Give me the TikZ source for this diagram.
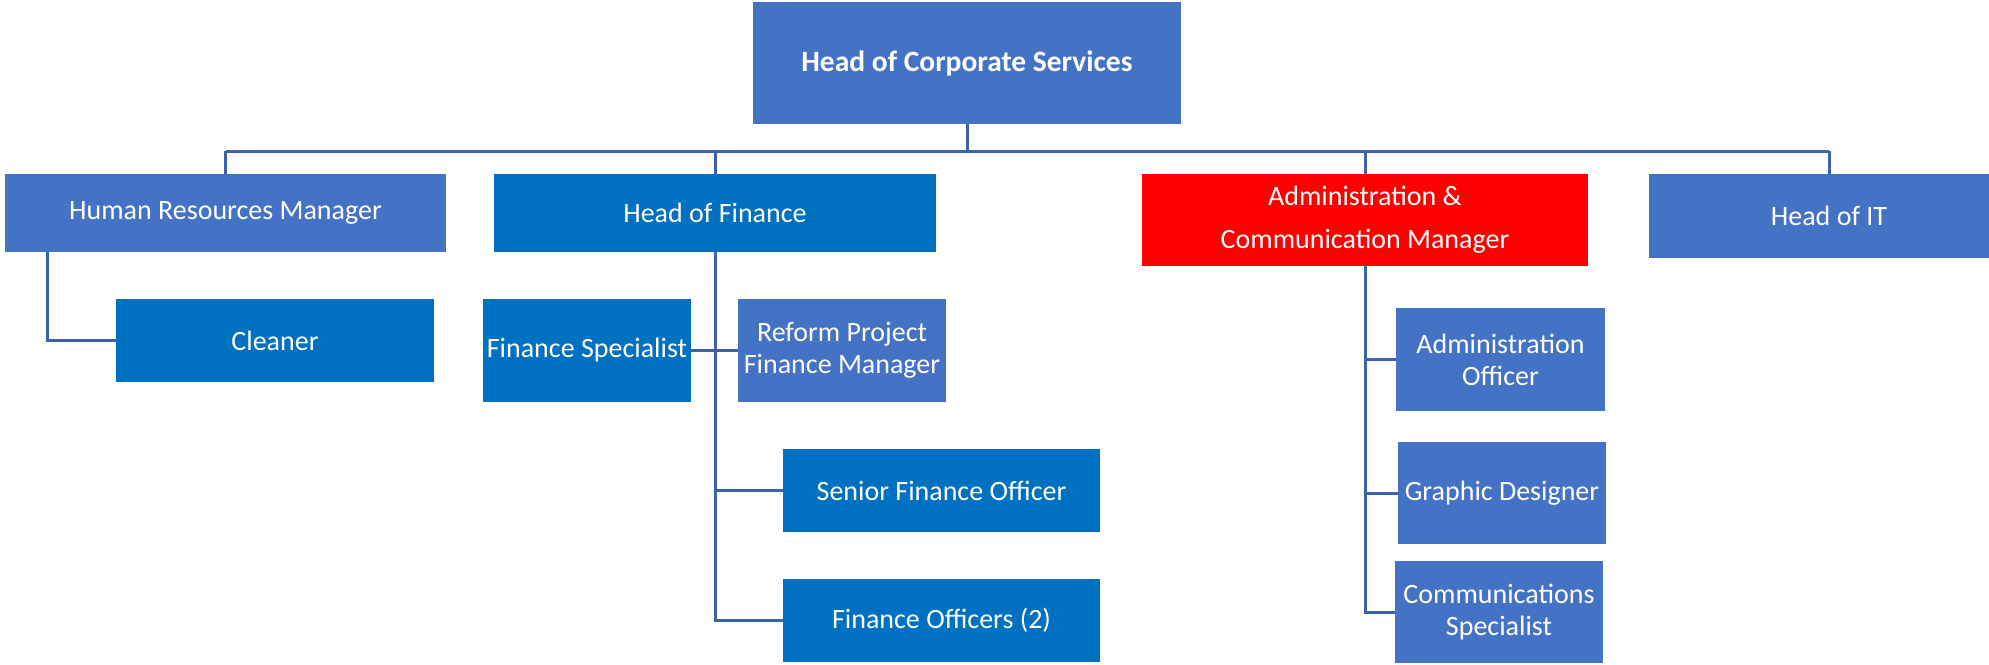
\documentclass[tikz,border=0pt]{standalone}
\usepackage{fontspec}
\setmainfont{Carlito}
\definecolor{boxblue}{HTML}{4472C4}
\definecolor{deepblue}{HTML}{0070C0}
\definecolor{boxred}{HTML}{FF0000}
\definecolor{linkblue}{RGB}{62,98,170}
\tikzset{
  unit/.style={rectangle, inner sep=0pt, text=white, align=center,
    font=\fontsize{28}{32}\selectfont},
  light/.style={unit, fill=boxblue},
  deep/.style={unit, fill=deepblue},
  alert/.style={unit, fill=boxred, font=\fontsize{28}{43}\selectfont},
  conn/.style={draw=linkblue, line width=3pt},
  box/.style args={#1x#2}{minimum width=#1pt, minimum height=#2pt},
}
\begin{document}
\begin{tikzpicture}[x=1pt, y=-1pt]
\useasboundingbox (0,0) rectangle (1989,664);

% top level
\node[light, box=428x122, font=\bfseries\fontsize{29.5}{33}\selectfont] (hocs) at (967,63) {Head of Corporate Services};

% second level
\node[light, box=441x78] (hr) at (225.5,213) {Human Resources Manager};
\node[deep, box=442x78] (hof) at (715,213) {Head of Finance};
\node[alert, box=446x92] (acm) at (1365,220) {Administration \&\\Communication Manager};
\node[light, box=360x84] (it) at (1829,216) {Head of IT};

% human resources branch
\node[deep, box=318x83] (cln) at (275,340.5) {Cleaner};

% finance branch
\node[deep, box=208x103] (fs) at (587,350.5) {Finance Specialist};
\node[light, box=208x103] (rpf) at (842,350.5) {Reform Project\\Finance Manager};
\node[deep, box=317x83] (sfo) at (941.5,490.5) {Senior Finance Officer};
\node[deep, box=317x83] (fo) at (941.5,620.5) {Finance Officers (2)};

% administration branch
\node[light, box=209x103] (ao) at (1500.5,359.5) {Administration\\Officer};
\node[light, box=208x102] (gd) at (1502,493) {Graphic Designer};
\node[light, box=208x102] (cs) at (1499,612) {Communications\\Specialist};

% bus under the head of corporate services
\coordinate (busL) at (225.5,151);
\coordinate (busR) at (1829,151);
\draw[conn] (hocs.south) -- (hocs.south |- busL);
\draw[conn] (busL) -- (busR);
\foreach \n in {hr,hof,acm,it} \draw[conn] (\n.north) -- (\n.north |- busL);

% human resources to cleaner
\draw[conn] ([xshift=43pt]hr.south west) |- (cln.west);

% finance reports
\draw[conn] (hof.south) -- (hof.south |- fo.west) -- (fo.west);
\draw[conn] (hof.south |- sfo.west) -- (sfo.west);
\draw[conn] (fs.east) -- (rpf.west);

% administration reports
\draw[conn] (acm.south) -- (acm.south |- cs.west) -- (cs.west);
\draw[conn] (acm.south |- ao.west) -- (ao.west);
\draw[conn] (acm.south |- gd.west) -- (gd.west);
\end{tikzpicture}
\end{document}
